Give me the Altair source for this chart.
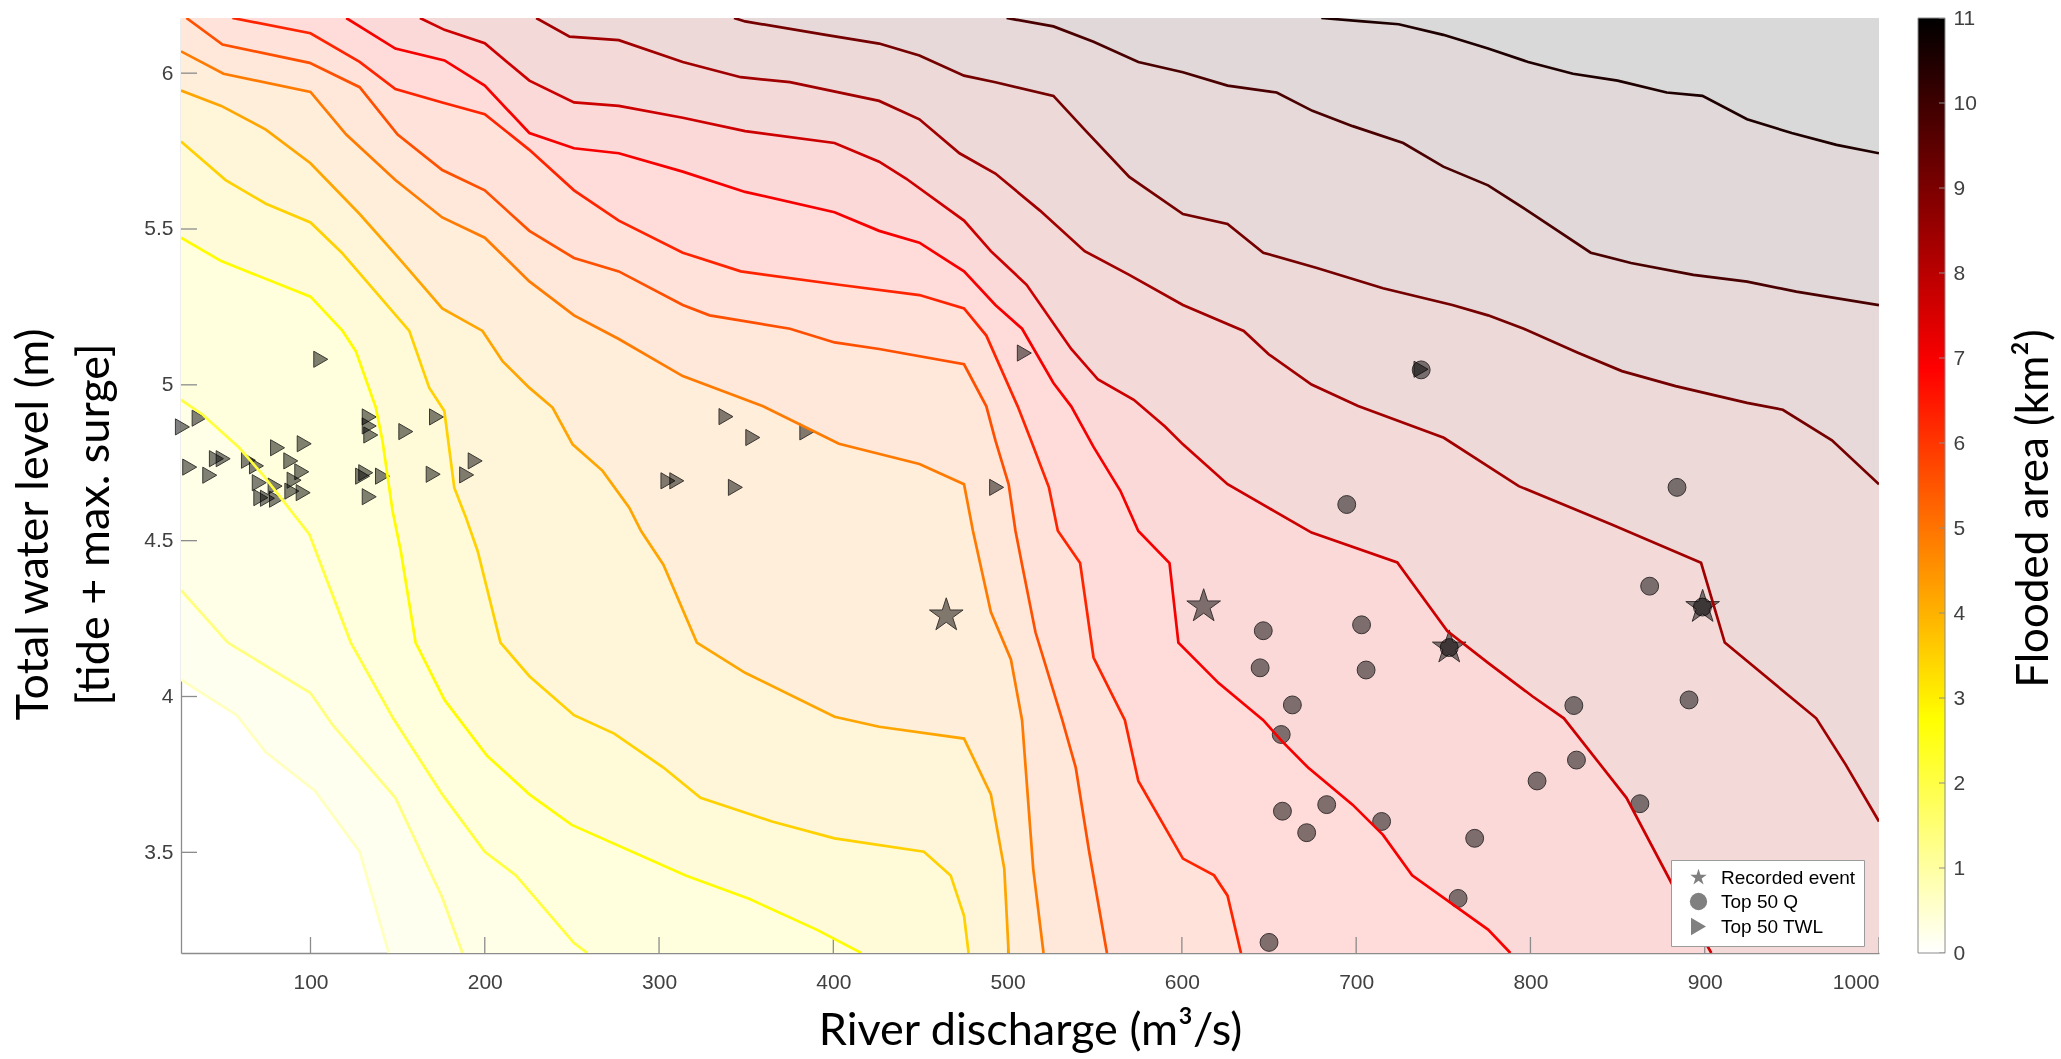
import altair as alt
import pandas as pd

# ---------------- axes / ticks ----------------
X_MIN, X_MAX = 25.7, 1000.0
Y_MIN, Y_MAX = 3.177, 6.177
X_TICKS = [100, 200, 300, 400, 500, 600, 700, 800, 900, 1000]
Y_TICKS = [3.5, 4.0, 4.5, 5.0, 5.5, 6.0]
CBAR_TICKS = [0, 1, 2, 3, 4, 5, 6, 7, 8, 9, 10, 11]
CBAR_RANGE = [0, 11]

# colour map (reversed "hot") and its translucent version used for the shading
CMAP_STOPS = [0, 2.75, 6.875, 11]
CMAP_COLORS = ["#ffffff", "#ffff00", "#ff0000", "#000000"]
SHADE_COLORS = ["#ffffff", "#ffffd9", "#ffd9d9", "#d9d9d9"]

# contour levels (flooded area, km2) and the value of the band above each contour
LEVELS = [0.7, 1.4, 2.1, 2.8, 3.5, 4.2, 4.9, 5.6, 6.3, 7.0, 7.7, 8.4, 9.1, 9.8, 10.5]
BAND_LEVELS = [1.05, 1.75, 2.45, 3.15, 3.85, 4.55, 5.25, 5.95, 6.65, 7.35, 8.05, 8.75, 9.45, 10.15, 10.85]

# ---------------- contour lines (river discharge, total water level) ----------------
C01 = [(25.7, 4.054), (57.7, 3.940), (74.4, 3.821), (102.6, 3.697), (128.2, 3.502), (144.9, 3.177)]
C02 = [(25.7, 4.341), (52.6, 4.173), (100.0, 4.011), (112.8, 3.908), (148.7, 3.675), (175.6, 3.355),
       (187.2, 3.177)]
C03 = [(25.7, 4.952), (38.0, 4.905), (59.1, 4.798), (72.4, 4.713), (85.8, 4.617), (99.3, 4.521),
       (103.0, 4.467), (123.1, 4.173), (147.4, 3.930), (175.6, 3.686), (200.0, 3.502), (217.9, 3.426),
       (251.2, 3.209), (258.9, 3.177)]
C04 = [(25.7, 5.472), (48.8, 5.397), (100.0, 5.283), (118.4, 5.173), (126.0, 5.108), (137.5, 4.927),
       (141.3, 4.820), (147.1, 4.595), (151.8, 4.467), (160.3, 4.173), (176.9, 3.989), (201.3, 3.810),
       (225.6, 3.686), (249.9, 3.588), (315.3, 3.426), (352.0, 3.350), (390.4, 3.252), (416.1, 3.177)]
C05 = [(25.7, 5.781), (51.3, 5.657), (74.4, 5.581), (100.0, 5.521), (118.0, 5.424), (156.7, 5.173),
       (168.1, 4.991), (176.8, 4.916), (182.5, 4.670), (189.2, 4.574), (195.9, 4.467), (209.0, 4.173),
       (225.6, 4.065), (251.2, 3.940), (274.3, 3.881), (302.5, 3.772), (323.8, 3.675), (364.8, 3.599),
       (400.7, 3.545), (452.0, 3.502), (467.3, 3.426), (475.0, 3.296), (477.6, 3.177)]
C06 = [(25.7, 5.944), (48.8, 5.895), (74.4, 5.819), (100.0, 5.711), (128.2, 5.548), (153.9, 5.386),
       (175.6, 5.245), (198.7, 5.173), (210.2, 5.076), (225.5, 4.991), (238.9, 4.927), (250.4, 4.809),
       (267.6, 4.724), (282.9, 4.606), (289.7, 4.531), (302.5, 4.423), (321.7, 4.173), (349.4, 4.076),
       (400.7, 3.935), (426.3, 3.903), (475.0, 3.865), (490.4, 3.686), (498.1, 3.447), (500.6, 3.177)]
C07 = [(25.7, 6.070), (50.1, 5.998), (100.0, 5.940), (120.5, 5.803), (148.7, 5.657), (175.6, 5.537),
       (200.0, 5.472), (225.6, 5.332), (251.2, 5.223), (276.9, 5.147), (313.6, 5.028), (359.7, 4.931),
       (403.2, 4.811), (449.4, 4.746), (475.0, 4.681), (480.1, 4.532), (490.4, 4.271), (501.9, 4.119),
       (508.3, 3.924), (514.7, 3.447), (520.6, 3.177)]
C08 = [(28.8, 6.177), (49.5, 6.092), (99.5, 6.033), (128.2, 5.955), (150.0, 5.803), (175.6, 5.689),
       (200.0, 5.624), (225.6, 5.494), (251.2, 5.407), (276.9, 5.364), (313.6, 5.256), (329.0, 5.223),
       (375.1, 5.180), (400.7, 5.136), (426.3, 5.115), (475.0, 5.066), (487.8, 4.931), (493.0, 4.822),
       (500.6, 4.681), (504.5, 4.532), (508.3, 4.423), (516.0, 4.206), (531.4, 3.924), (539.1, 3.772),
       (546.8, 3.502), (557.0, 3.177)]
C09 = [(55.2, 6.177), (100.0, 6.128), (128.2, 6.036), (148.7, 5.949), (175.6, 5.906), (200.0, 5.868),
       (225.6, 5.754), (251.2, 5.624), (276.9, 5.527), (313.6, 5.424), (346.9, 5.364), (403.2, 5.321),
       (449.4, 5.288), (475.0, 5.245), (487.8, 5.158), (505.8, 4.931), (513.4, 4.822), (523.7, 4.671),
       (528.8, 4.532), (541.6, 4.428), (549.3, 4.125), (567.3, 3.924), (575.0, 3.729), (600.6, 3.480),
       (618.5, 3.426), (626.2, 3.361), (633.9, 3.177)]
C10 = [(120.5, 6.177), (148.7, 6.079), (176.9, 6.041), (200.0, 5.960), (225.6, 5.808), (251.2, 5.759),
       (276.9, 5.743), (313.6, 5.684), (349.4, 5.619), (400.7, 5.554), (426.3, 5.494), (449.4, 5.456),
       (475.0, 5.364), (493.0, 5.256), (508.3, 5.180), (526.3, 5.006), (536.5, 4.931), (549.3, 4.801),
       (564.7, 4.660), (575.0, 4.531), (592.9, 4.428), (598.0, 4.173), (621.1, 4.043), (646.7, 3.924),
       (657.0, 3.859), (672.4, 3.772), (697.9, 3.653), (715.4, 3.556), (732.1, 3.426), (775.7, 3.252),
       (788.5, 3.177)]
C11 = [(162.8, 6.177), (176.9, 6.139), (200.0, 6.096), (225.6, 5.976), (251.2, 5.906), (276.9, 5.895),
       (313.6, 5.857), (349.4, 5.814), (400.7, 5.776), (426.3, 5.716), (441.7, 5.662), (475.0, 5.527),
       (490.4, 5.429), (510.9, 5.321), (536.5, 5.115), (551.9, 5.017), (572.4, 4.952), (590.3, 4.866),
       (600.6, 4.809), (626.2, 4.681), (674.4, 4.526), (723.6, 4.430), (752.3, 4.210), (775.7, 4.108),
       (801.3, 4.000), (819.2, 3.930), (855.1, 3.675), (880.7, 3.404), (903.8, 3.177)]
C12 = [(229.5, 6.177), (248.7, 6.117), (276.9, 6.106), (313.6, 6.036), (346.9, 5.987), (375.1, 5.971),
       (426.3, 5.911), (449.4, 5.852), (472.4, 5.743), (493.0, 5.678), (518.6, 5.559), (544.2, 5.429),
       (569.8, 5.353), (600.6, 5.256), (635.5, 5.173), (649.8, 5.098), (674.4, 5.001), (701.1, 4.932),
       (750.3, 4.830), (793.3, 4.675), (846.6, 4.552), (897.9, 4.429), (911.5, 4.173), (964.0, 3.930),
       (980.7, 3.783), (1000.0, 3.599)]
C13 = [(343.0, 6.177), (349.4, 6.166), (395.6, 6.123), (426.3, 6.095), (449.4, 6.057), (475.0, 5.992),
       (493.0, 5.971), (526.3, 5.927), (544.2, 5.819), (569.8, 5.667), (600.6, 5.548), (626.2, 5.516),
       (646.7, 5.424), (677.5, 5.375), (715.4, 5.310), (755.2, 5.256), (775.7, 5.223), (796.2, 5.180),
       (826.9, 5.104), (852.5, 5.044), (883.3, 4.996), (924.3, 4.942), (944.8, 4.920), (973.0, 4.822),
       (1000.0, 4.681)]
C14 = [(499.4, 6.177), (526.3, 6.150), (549.3, 6.101), (575.0, 6.036), (600.6, 6.003), (626.2, 5.960),
       (654.4, 5.938), (674.9, 5.879), (698.0, 5.830), (727.0, 5.776), (750.0, 5.700), (775.7, 5.640),
       (801.3, 5.548), (834.6, 5.424), (857.7, 5.391), (893.5, 5.353), (924.3, 5.331), (952.5, 5.299),
       (1000.0, 5.256)]
C15 = [(680.0, 6.177), (703.9, 6.166), (724.4, 6.157), (750.0, 6.123), (775.7, 6.079), (798.7, 6.036),
       (824.4, 5.998), (850.0, 5.976), (878.2, 5.938), (898.7, 5.927), (924.3, 5.852), (949.9, 5.808),
       (975.6, 5.770), (1000.0, 5.743)]
CONTOURS = [C01, C02, C03, C04, C05, C06, C07, C08, C09, C10, C11, C12, C13, C14, C15]

# ---------------- events ----------------
SERIES = ["Recorded event", "Top 50 Q", "Top 50 TWL"]
STAR_X = [464.8, 612.5, 753.4, 898.8]
STAR_Y = [4.260, 4.289, 4.157, 4.287]
Q_X = [646.7, 644.9, 663.4, 657.0, 703.1, 705.7, 657.7, 683.1, 671.6, 714.6, 650.0, 694.6, 737.3,
       884.1, 868.4, 898.7, 753.4, 824.9, 891.0, 826.4, 803.8, 862.8, 768.0, 758.5]
Q_Y = [4.211, 4.092, 3.973, 3.878, 4.230, 4.085, 3.632, 3.653, 3.563, 3.599, 3.211, 4.616, 5.048,
       4.671, 4.354, 4.287, 4.157, 3.971, 3.989, 3.796, 3.729, 3.656, 3.545, 3.352]
TWL_X = [105.9, 26.5, 36.1, 30.7, 42.2, 46.0, 49.9, 64.4, 69.0, 70.6, 79.7, 71.5, 75.3, 80.5, 81.1,
         88.7, 96.4, 95.0, 90.6, 89.3, 95.8, 133.7, 133.7, 134.6, 154.7, 172.3, 129.9, 131.7, 141.3,
         133.7, 170.4, 189.6, 194.5, 305.1, 310.2, 338.4, 353.8, 384.8, 343.8, 493.7, 509.6, 737.2]
TWL_Y = [5.082, 4.865, 4.893, 4.736, 4.710, 4.763, 4.763, 4.758, 4.740, 4.686, 4.675, 4.638, 4.636,
         4.633, 4.798, 4.756, 4.811, 4.721, 4.694, 4.659, 4.654, 4.897, 4.868, 4.839, 4.850, 4.897,
         4.707, 4.718, 4.707, 4.641, 4.713, 4.711, 4.756, 4.692, 4.692, 4.898, 4.831, 4.849, 4.671,
         4.671, 5.102, 5.050]

# ---------------- style ----------------
W, H = 1698, 935
CB_W = 27
GAP = 38
AX_GRAY = "#8c8c8c"
LBL = "#404040"
FONT_T = "Lato"
FONT_L = "Liberation Sans, Arial, sans-serif"
STAR_PATH = ("M0,-1L0.2245,-0.309L0.951,-0.309L0.3633,0.118L0.5878,0.809L0,0.382"
             "L-0.5878,0.809L-0.3633,0.118L-0.951,-0.309L-0.2245,-0.309Z")
MARKER_SHAPES = [STAR_PATH, "circle", "triangle-right"]
MARKER_SIZES = [1250, 320, 260]

xs = alt.Scale(domain=[X_MIN, X_MAX], nice=False, zero=False)
ys = alt.Scale(domain=[Y_MIN, Y_MAX], nice=False, zero=False)
line_cs = alt.Scale(domain=CMAP_STOPS, range=CMAP_COLORS, interpolate="rgb")
shade_cs = alt.Scale(domain=CMAP_STOPS, range=SHADE_COLORS, interpolate="rgb")

x_axis = alt.Axis(values=X_TICKS, format="d", orient="bottom", ticks=False, domainColor=AX_GRAY,
                  domainWidth=1.3, labelFont=FONT_L, labelFontSize=21, labelColor=LBL,
                  labelPadding=18, grid=False, title="River discharge (m³/s)", titleFont=FONT_T,
                  titleFontSize=45, titleFontWeight="normal", titleColor="black", titlePadding=16)
y_axis = alt.Axis(values=Y_TICKS, format="~g", orient="left", ticks=False, domainColor=AX_GRAY,
                  domainWidth=1.3, labelFont=FONT_L, labelFontSize=21, labelColor=LBL,
                  labelPadding=8, grid=False,
                  title=["Total water level (m)", "[tide + max. surge]"], titleFont=FONT_T,
                  titleFontSize=45, titleFontWeight="normal", titleColor="black",
                  titleLineHeight=61, titlePadding=26, titleY=506)


def X(field):
    return alt.X(field, scale=xs, axis=x_axis)


def Y(field):
    return alt.Y(field, scale=ys, axis=y_axis)


layers = []

# ---------------- shaded background: filled region above each contour ----------------
for k, (pts, lev) in enumerate(zip(CONTOURS, BAND_LEVELS)):
    poly = list(pts)
    if pts[-1][1] <= Y_MIN + 1e-9:
        poly.append((X_MAX, Y_MIN))
    poly.append((X_MAX, Y_MAX))
    poly.append((pts[0][0], Y_MAX))
    df = pd.DataFrame({"x": [p[0] for p in poly], "y": [p[1] for p in poly],
                       "o": list(range(len(poly))), "lev": [lev] * len(poly)})
    layers.append(
        alt.Chart(df).mark_line(clip=True, strokeWidth=0, strokeOpacity=0).encode(
            x=X("x:Q"), y=Y("y:Q"),
            fill=alt.Fill("lev:Q", scale=shade_cs, legend=None),
            order=alt.Order("o:Q"),
        )
    )

# ---------------- inward axis ticks ----------------
xt_df = pd.DataFrame({"t": X_TICKS, "b": [Y_MIN] * len(X_TICKS)})
yt_df = pd.DataFrame({"t": Y_TICKS, "l": [X_MIN] * len(Y_TICKS)})
layers.append(alt.Chart(xt_df).mark_tick(orient="vertical", size=32, thickness=1.3, color=AX_GRAY,
                                         opacity=1, clip=True).encode(x=X("t:Q"), y=Y("b:Q")))
layers.append(alt.Chart(yt_df).mark_tick(orient="horizontal", size=32, thickness=1.3, color=AX_GRAY,
                                         opacity=1, clip=True).encode(x=X("l:Q"), y=Y("t:Q")))

# ---------------- markers ----------------
legend = alt.Legend(title=None, orient="none", legendX=1490, legendY=842, fillColor="white",
                    strokeColor="#9b9b9b", padding=8, labelFont=FONT_L, labelFontSize=19,
                    labelColor="black", symbolSize=300, symbolFillColor="#7f7f7f",
                    symbolStrokeColor="#3a3a3a", symbolStrokeWidth=1, rowPadding=2, labelOffset=13,
                    symbolOffset=10)
shape_scale = alt.Scale(domain=SERIES, range=MARKER_SHAPES)
for name, px, py, size in zip(SERIES, [STAR_X, Q_X, TWL_X], [STAR_Y, Q_Y, TWL_Y], MARKER_SIZES):
    df = pd.DataFrame({"x": px, "y": py, "s": [name] * len(px)})
    layers.append(
        alt.Chart(df).mark_point(filled=True, opacity=1, size=size, stroke="#3a3a3a", strokeWidth=1,
                                 blend="multiply").encode(
            x=X("x:Q"), y=Y("y:Q"),
            shape=alt.Shape("s:N", scale=shape_scale, legend=legend),
            color=alt.value("#808080"),
        )
    )

# ---------------- contour lines ----------------
line_rows = []
for cid, (pts, lev) in enumerate(zip(CONTOURS, LEVELS)):
    for i, (x, y) in enumerate(pts):
        line_rows.append({"x": x, "y": y, "o": i, "lev": lev, "cid": cid})
lines_df = pd.DataFrame(line_rows)
layers.append(
    alt.Chart(lines_df).mark_line(clip=True, strokeWidth=2.7).encode(
        x=X("x:Q"), y=Y("y:Q"),
        color=alt.Color("lev:Q", scale=line_cs, legend=None),
        detail="cid:N",
        order=alt.Order("o:Q"),
    )
)

main = alt.layer(*layers).properties(width=W, height=H)

# ---------------- colour bar ----------------
grad = alt.Gradient(gradient="linear",
                    stops=[alt.GradientStop(color=c, offset=s / CBAR_RANGE[1])
                           for s, c in zip(CMAP_STOPS, CMAP_COLORS)],
                    x1=0, x2=0, y1=1, y2=0)
cb_y = alt.Scale(domain=CBAR_RANGE, nice=False, zero=False)
cb_x = alt.Scale(domain=[0, 1], nice=False, zero=False)
cb_axis = alt.Axis(orient="right", values=CBAR_TICKS, ticks=False, domain=False, labelFont=FONT_L,
                   labelFontSize=21, labelColor=LBL, labelPadding=8, grid=False,
                   title="Flooded area (km²)", titleAngle=270, titleFont=FONT_T, titleFontSize=44,
                   titleFontWeight="normal", titleColor="black", titlePadding=80, titleY=490)
cb_df = pd.DataFrame({"lo": [CBAR_RANGE[0]], "hi": [CBAR_RANGE[1]], "a": [0], "b": [1]})
cb_rect = alt.Chart(cb_df).mark_rect(fill=grad, stroke=AX_GRAY, strokeWidth=1).encode(
    x=alt.X("a:Q", scale=cb_x, axis=None), x2="b",
    y=alt.Y("lo:Q", scale=cb_y, axis=cb_axis), y2="hi",
)
cbt_df = pd.DataFrame({"t": CBAR_TICKS, "r": [1] * len(CBAR_TICKS)})
cb_ticks = alt.Chart(cbt_df).mark_tick(orient="horizontal", size=12, thickness=1, color=AX_GRAY,
                                       opacity=1, clip=True).encode(
    x=alt.X("r:Q", scale=cb_x, axis=None),
    y=alt.Y("t:Q", scale=cb_y, axis=cb_axis),
)
cbar = alt.layer(cb_rect, cb_ticks).properties(width=CB_W, height=H)

chart = alt.hconcat(main, cbar, spacing=GAP).properties(
    padding={"left": 11, "top": 7, "right": 2, "bottom": 2}, background="white"
).configure_view(stroke=None)

chart.save("out.html", embed_options={"renderer": "svg", "actions": False})
